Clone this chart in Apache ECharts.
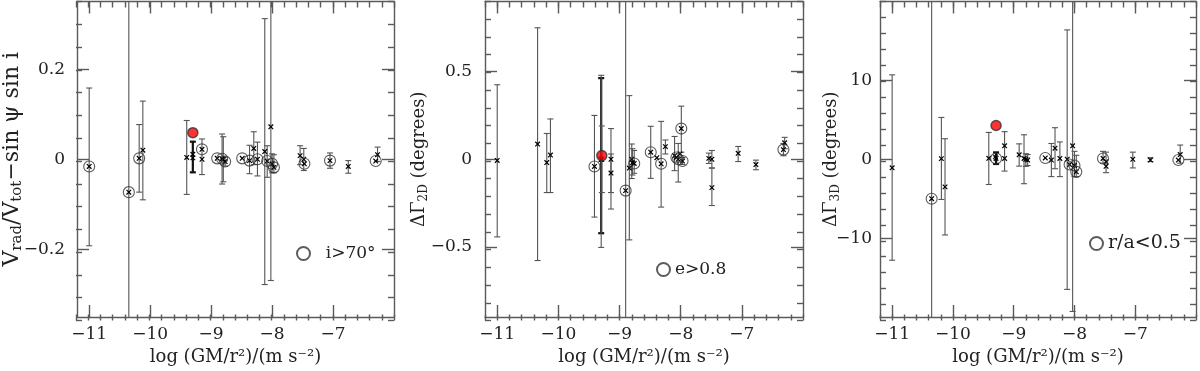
<!DOCTYPE html>
<html>
<head>
<meta charset="utf-8">
<script src="https://cdn.jsdelivr.net/npm/echarts@6/dist/echarts.min.js"></script>
<style>
  html, body { margin: 0; padding: 0; background: #fff; }
  #main { width: 1200px; height: 371px; }
</style>
</head>
<body>
<div id="main"></div>
<script>
// ---- data ----
// x is log(GM/r^2) for every object, y the quantity, lo/hi the ends of its error bar (null = none)
// ring: 1 = circled object (the subsample named in each legend)

// panel 1: Vrad/Vtot - sin psi sin i
var p1X    = [-11.0, -10.35, -10.18, -10.12, -9.40, -9.30, -9.30, -9.15, -9.15, -8.90, -8.82, -8.80, -8.77, -8.49, -8.37, -8.30, -8.24, -8.12, -8.08, -8.02, -8.00, -7.97, -7.54, -7.48, -7.47, -7.05, -6.75, -6.30, -6.27];
var p1Y    = [-0.016, -0.073, 0.002, 0.020, 0.004, 0.011, 0.003, 0.022, 0.000, 0.002, 0.001, 0.000, -0.005, 0.002, -0.003, 0.024, 0.000, 0.017, -0.004, 0.072, -0.010, -0.018, 0.008, 0.000, -0.010, -0.003, -0.016, -0.004, 0.010];
var p1Lo   = [-0.192, -9, -0.073, -0.090, -0.078, -0.029, null, -0.034, null, null, -0.055, -0.050, -0.015, null, -0.032, -0.012, -0.037, -0.278, -0.040, -0.269, -0.030, -0.030, -0.012, -0.025, null, -0.020, -0.031, null, -0.005];
var p1Hi   = [0.158, 9, 0.077, 0.129, 0.086, 0.039, null, 0.045, null, null, 0.056, 0.050, 0.005, null, 0.031, 0.061, 0.038, 0.312, 0.030, 9, 0.012, 0.010, 0.030, 0.024, null, 0.014, -0.003, null, 0.027];
var p1Ring = [1, 1, 1, 0, 0, 0, 0, 1, 0, 1, 1, 0, 1, 1, 1, 0, 1, 0, 1, 0, 1, 1, 0, 0, 1, 1, 0, 1, 0];
var p1Bold = [5];
var p1Red  = [[-9.30, 0.059]];

// panel 2: Delta Gamma 2D (degrees)
var p2X    = [-11.0, -10.34, -10.19, -10.13, -9.41, -9.30, -9.30, -9.29, -9.14, -9.14, -8.90, -8.84, -8.80, -8.79, -8.76, -8.49, -8.39, -8.32, -8.25, -8.10, -8.07, -8.04, -8.01, -7.99, -7.97, -7.54, -7.49, -7.49, -7.06, -6.77, -6.32, -6.30];
var p2Y    = [-0.007, 0.087, -0.019, 0.024, -0.041, 0.000, 0.000, 0.000, 0.000, -0.079, -0.179, -0.050, 0.000, -0.020, -0.024, 0.040, 0.009, -0.026, 0.072, 0.020, 0.010, 0.000, 0.030, 0.175, -0.010, 0.005, 0.000, -0.162, 0.034, -0.030, 0.055, 0.094];
var p2Lo   = [-0.443, -0.578, -0.190, -0.190, -0.330, -0.422, -0.503, -0.190, -0.284, -0.190, -9, -0.460, -0.110, -0.090, -0.080, -0.109, null, -0.273, 0.030, -0.065, null, -0.130, null, 0.040, -0.030, -0.024, -0.050, -0.264, -0.013, -0.060, 0.020, 0.060];
var p2Hi   = [0.425, 0.750, 0.147, 0.230, 0.250, 0.463, 0.479, 0.190, 0.175, 0.030, 9, 0.363, 0.087, 0.060, 0.050, 0.188, null, 0.216, 0.110, 0.130, null, 0.090, null, 0.303, 0.010, 0.035, 0.050, -0.050, 0.073, -0.005, 0.090, 0.125];
var p2Ring = [0, 0, 0, 0, 1, 0, 0, 0, 0, 0, 1, 0, 0, 0, 1, 1, 0, 1, 0, 0, 1, 1, 0, 1, 1, 0, 0, 0, 0, 0, 1, 0];
var p2Bold = [5];
var p2Red  = [[-9.29, 0.021]];

// panel 3: Delta Gamma 3D (degrees)
var p3X    = [-11.0, -10.35, -10.19, -10.13, -9.41, -9.29, -9.30, -9.15, -9.15, -8.91, -8.83, -8.80, -8.77, -8.48, -8.38, -8.32, -8.24, -8.12, -8.08, -8.03, -8.00, -7.97, -7.53, -7.48, -7.48, -7.04, -6.75, -6.29, -6.26];
var p3Y    = [-1.08, -5.0, 0.08, -3.5, 0.12, 0.1, 0.3, 1.7, 0.1, 0.57, 0.1, 0.0, -0.1, 0.16, -0.1, 1.4, 0.1, 0.0, -0.67, 1.7, -0.8, -1.6, 0.1, -0.3, -0.9, 0.0, -0.1, -0.1, 0.6];
var p3Lo   = [-12.8, -99, -5.1, -9.6, -3.2, -0.6, null, -1.5, null, -0.87, -3.1, -0.9, -0.8, null, -2.2, -1.2, -2.2, -16.5, null, -19.3, -2.2, -2.2, -0.5, -1.7, null, -1.1, -0.3, null, -0.5];
var p3Hi   = [10.7, 99, 5.3, 2.6, 3.4, 0.87, null, 3.5, null, 1.95, 3.1, 0.7, 0.6, null, 2.0, 4.0, 2.2, 16.4, null, 99, 1.0, 0.5, 1.0, 0.9, null, 0.9, 0.2, null, 1.8];
var p3Ring = [0, 1, 0, 0, 0, 1, 0, 0, 0, 0, 0, 0, 0, 1, 0, 0, 0, 0, 1, 0, 1, 1, 1, 0, 0, 0, 0, 1, 0];
var p3Bold = [5];
var p3Red  = [[-9.29, 4.28]];

// axes: ranges, labelled ticks and minor tick steps
var xRange = [-11.2, -6.0];
var xMajor = [-11, -10, -9, -8, -7];
var xStep = 0.2;
var yRanges = [[-0.35, 0.35], [-0.9, 0.9], [-20, 20]];
var yMajor = [[-0.2, 0, 0.2], [-0.5, 0, 0.5], [-10, 0, 10]];
var ySteps = [0.05, 0.1, 2];
var legendNames = ['i>70°', 'e>0.8', 'r/a<0.5'];

var FONT = 'DejaVu Serif';
var INK = '#222';
var FRAME = '#5a5a5a';

var panels = [
  { x: p1X, y: p1Y, lo: p1Lo, hi: p1Hi, ring: p1Ring, bold: p1Bold, red: p1Red },
  { x: p2X, y: p2Y, lo: p2Lo, hi: p2Hi, ring: p2Ring, bold: p2Bold, red: p2Red },
  { x: p3X, y: p3Y, lo: p3Lo, hi: p3Hi, ring: p3Ring, bold: p3Bold, red: p3Red }
];
var gridPos = [
  { left: 76, width: 318 },
  { left: 485, width: 318 },
  { left: 880, width: 316 }
];
var legendPos = [
  { left: 296, top: 245, fmt: '  {name}', size: 17 },
  { left: 656, top: 261, fmt: '{name}', size: 17 },
  { left: 1089, top: 234, fmt: '{name}', size: 19 }
];
var yNames = [
  '{n|V}{s|rad}{n|/V}{s|tot}{n|−sin ψ sin i}',
  '{n|ΔΓ}{s|2D}{n| (degrees)}',
  '{n|ΔΓ}{s|3D}{n| (degrees)}'
];
var yNameSize = [[22, 15], [18, 12], [18, 12]];
var yNameGap = [52, 55, 38];
var yLabelMargin = [12, 13, 8];

function steps(a, b, s) {
  var out = [];
  var n = Math.round((b - a) / s);
  for (var i = 0; i <= n; i++) out.push(+(a + i * s).toFixed(6));
  return out;
}
function minus(v) {
  return v === 0 ? '0' : String(v).replace('-', '\u2212');
}

function errItem(params, api) {
  var cs = params.coordSys;
  var x = api.value(0);
  var a = api.coord([x, api.value(3)]);
  var b = api.coord([x, api.value(2)]);
  var bold = api.value(4) === 1;
  var st = { stroke: bold ? '#111' : '#555', lineWidth: bold ? 2.2 : 1.1 };
  var top = Math.max(a[1], cs.y), bot = Math.min(b[1], cs.y + cs.height);
  var ch = [{ type: 'line', shape: { x1: a[0], y1: top, x2: a[0], y2: bot }, style: st }];
  if (a[1] >= cs.y) ch.push({ type: 'line', shape: { x1: a[0] - 3, y1: a[1], x2: a[0] + 3, y2: a[1] }, style: st });
  if (b[1] <= cs.y + cs.height) ch.push({ type: 'line', shape: { x1: b[0] - 3, y1: b[1], x2: b[0] + 3, y2: b[1] }, style: st });
  return { type: 'group', children: ch };
}
function crossItem(params, api) {
  var p = api.coord([api.value(0), api.value(1)]);
  var s = 2.3;
  var st = { stroke: '#000', lineWidth: 1.2 };
  return { type: 'group', children: [
    { type: 'line', shape: { x1: p[0] - s, y1: p[1] - s, x2: p[0] + s, y2: p[1] + s }, style: st },
    { type: 'line', shape: { x1: p[0] - s, y1: p[1] + s, x2: p[0] + s, y2: p[1] - s }, style: st }
  ] };
}

var grid = [], xAxis = [], yAxis = [], series = [], legend = [];
var tickLabel = { fontFamily: FONT, fontSize: 17, color: INK };

panels.forEach(function (p, k) {
  var gA = grid.length;
  // grid A holds the data and the long labelled ticks, grid B (same box) the short ticks
  grid.push({ left: gridPos[k].left, width: gridPos[k].width, top: 1.5, height: 319 });
  grid.push({ left: gridPos[k].left, width: gridPos[k].width, top: 1.5, height: 319 });

  var lineStyle = { color: FRAME, width: 1.4 };
  var hidden = { show: false, onZero: false };

  // x axes
  xAxis.push({
    type: 'value', gridIndex: gA, position: 'bottom', min: xRange[0], max: xRange[1],
    axisLine: { show: true, onZero: false, lineStyle: lineStyle },
    axisTick: { show: true, inside: true, length: 12, customValues: xMajor, lineStyle: lineStyle },
    axisLabel: { show: true, customValues: xMajor, margin: 9, formatter: minus, textStyle: tickLabel },
    splitLine: { show: false },
    name: 'log (GM/r²)/(m s⁻²)', nameLocation: 'middle', nameGap: 31, nameMoveOverlap: false,
    nameTextStyle: { fontFamily: FONT, fontSize: 18, color: INK }
  });
  xAxis.push({
    type: 'value', gridIndex: gA, position: 'top', min: xRange[0], max: xRange[1],
    axisLine: { show: true, onZero: false, lineStyle: lineStyle },
    axisTick: { show: true, inside: true, length: 12, customValues: xMajor, lineStyle: lineStyle },
    axisLabel: { show: false }, splitLine: { show: false }
  });
  xAxis.push({
    type: 'value', gridIndex: gA + 1, position: 'bottom', min: xRange[0], max: xRange[1], interval: xStep,
    axisLine: hidden, axisLabel: { show: false }, splitLine: { show: false },
    axisTick: { show: true, inside: true, length: 6, lineStyle: lineStyle }
  });
  xAxis.push({
    type: 'value', gridIndex: gA + 1, position: 'top', min: xRange[0], max: xRange[1], interval: xStep,
    axisLine: hidden, axisLabel: { show: false }, splitLine: { show: false },
    axisTick: { show: true, inside: true, length: 6, lineStyle: lineStyle }
  });

  // y axes
  var fs = yNameSize[k];
  yAxis.push({
    type: 'value', gridIndex: gA, position: 'left', min: yRanges[k][0], max: yRanges[k][1],
    axisLine: { show: true, onZero: false, lineStyle: lineStyle },
    axisTick: { show: true, inside: true, length: 12, customValues: yMajor[k], lineStyle: lineStyle },
    axisLabel: { show: true, customValues: yMajor[k], margin: yLabelMargin[k], formatter: minus, textStyle: tickLabel },
    splitLine: { show: false },
    name: yNames[k], nameLocation: 'middle', nameGap: yNameGap[k], nameMoveOverlap: false,
    nameTextStyle: {
      fontFamily: FONT, fontSize: fs[0], color: INK,
      rich: {
        n: { fontFamily: FONT, fontSize: fs[0], color: INK },
        s: { fontFamily: FONT, fontSize: fs[1], color: INK, padding: [Math.round(fs[0] / 2), 0, 0, 0] }
      }
    }
  });
  yAxis.push({
    type: 'value', gridIndex: gA, position: 'right', min: yRanges[k][0], max: yRanges[k][1],
    axisLine: { show: true, onZero: false, lineStyle: lineStyle },
    axisTick: { show: true, inside: true, length: 12, customValues: yMajor[k], lineStyle: lineStyle },
    axisLabel: { show: false }, splitLine: { show: false }
  });
  yAxis.push({
    type: 'value', gridIndex: gA + 1, position: 'left', min: yRanges[k][0], max: yRanges[k][1], interval: ySteps[k],
    axisLine: hidden, axisLabel: { show: false }, splitLine: { show: false },
    axisTick: { show: true, inside: true, length: 6, lineStyle: lineStyle }
  });
  yAxis.push({
    type: 'value', gridIndex: gA + 1, position: 'right', min: yRanges[k][0], max: yRanges[k][1], interval: ySteps[k],
    axisLine: hidden, axisLabel: { show: false }, splitLine: { show: false },
    axisTick: { show: true, inside: true, length: 6, lineStyle: lineStyle }
  });

  var xi = k * 4, yi = k * 4;
  var errData = [], ptData = [], ringData = [];
  p.x.forEach(function (xv, i) {
    if (p.lo[i] !== null && p.hi[i] !== null) {
      errData.push([xv, p.y[i], p.lo[i], p.hi[i], p.bold.indexOf(i) >= 0 ? 1 : 0]);
    }
    ptData.push([xv, p.y[i]]);
    if (p.ring[i]) ringData.push([xv, p.y[i]]);
  });

  series.push({
    type: 'custom', xAxisIndex: xi, yAxisIndex: yi, renderItem: errItem, data: errData,
    silent: true, z: 2
  });
  series.push({
    type: 'custom', xAxisIndex: xi, yAxisIndex: yi, renderItem: crossItem, data: ptData,
    silent: true, z: 3
  });
  series.push({
    name: legendNames[k], type: 'scatter', xAxisIndex: xi, yAxisIndex: yi, data: ringData,
    symbol: 'circle', symbolSize: 11, silent: true, z: 4,
    itemStyle: { color: 'rgba(255,255,255,0)', borderColor: '#333', borderWidth: 1.1 }
  });
  series.push({
    type: 'scatter', xAxisIndex: xi, yAxisIndex: yi, data: p.red,
    symbol: 'circle', symbolSize: 10, silent: true, z: 5,
    itemStyle: { color: '#ff0000', borderColor: '#333', borderWidth: 1.5 }
  });

  legend.push({
    data: [legendNames[k]], left: legendPos[k].left, top: legendPos[k].top, padding: 0,
    itemWidth: 13, itemHeight: 13, icon: 'circle', formatter: legendPos[k].fmt, selectedMode: false,
    textStyle: { fontFamily: FONT, fontSize: legendPos[k].size, color: INK }
  });
});

var chart = echarts.init(document.getElementById('main'));
chart.setOption({
  animation: false,
  backgroundColor: '#fff',
  grid: grid,
  xAxis: xAxis,
  yAxis: yAxis,
  legend: legend,
  series: series
});
</script>
</body>
</html>
